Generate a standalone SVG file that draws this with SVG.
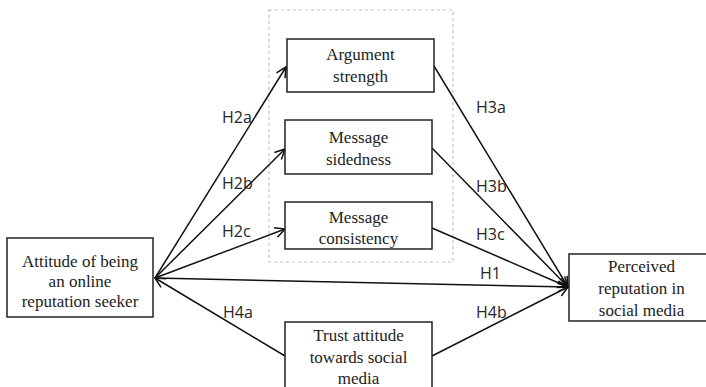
<svg xmlns="http://www.w3.org/2000/svg" width="706" height="387" viewBox="0 0 706 387">
  <defs>
    <marker id="arrow" viewBox="0 0 12 12" refX="11" refY="6" markerWidth="12" markerHeight="12" markerUnits="userSpaceOnUse" orient="auto">
      <path d="M1,1 L11,6 L1,11" fill="none" stroke="#111" stroke-width="1.5"/>
    </marker>
  </defs>
  <style>
    .box { fill: #fff; stroke: #222; stroke-width: 1.5; }
    .group { fill: none; stroke: #c4c4c4; stroke-width: 1.2; stroke-dasharray: 3 3; }
    .node-text { font-family: "Liberation Serif", "Times New Roman", serif; font-size: 17px; fill: #222; text-anchor: middle; }
    .edge { fill: none; stroke: #111; stroke-width: 1.5; }
    .label { font-family: "Open Sans", "DejaVu Sans", sans-serif; font-size: 16px; fill: #262626; }
  </style>
  <rect width="706" height="387" fill="#fff"/>

  <!-- mediator group outline -->
  <rect class="group" x="269" y="10" width="184" height="252"/>

  <g id="connectors">
    <line class="edge" x1="155" y1="278" x2="286" y2="67" marker-end="url(#arrow)"/>
    <line class="edge" x1="155" y1="278" x2="285" y2="149" marker-end="url(#arrow)"/>
    <line class="edge" x1="155" y1="278" x2="285" y2="229" marker-end="url(#arrow)"/>
    <line class="edge" x1="434" y1="66" x2="568" y2="287" marker-end="url(#arrow)"/>
    <line class="edge" x1="432" y1="148" x2="568" y2="287" marker-end="url(#arrow)"/>
    <line class="edge" x1="432" y1="228" x2="568" y2="287" marker-end="url(#arrow)"/>
    <line class="edge" x1="155" y1="278" x2="568" y2="287" marker-end="url(#arrow)"/>
    <line class="edge" x1="285" y1="356" x2="155" y2="278" marker-end="url(#arrow)"/>
    <line class="edge" x1="432" y1="356" x2="568" y2="287" marker-end="url(#arrow)"/>
  </g>

  <g id="edge-labels">
    <text class="label" x="222" y="123">H2a</text>
    <text class="label" x="222" y="189">H2b</text>
    <text class="label" x="222" y="237">H2c</text>
    <text class="label" x="476" y="113">H3a</text>
    <text class="label" x="476" y="192">H3b</text>
    <text class="label" x="476" y="240">H3c</text>
    <text class="label" x="480" y="279">H1</text>
    <text class="label" x="223" y="318">H4a</text>
    <text class="label" x="476" y="318">H4b</text>
  </g>

  <g id="attitude">
    <rect class="box" x="7" y="238" width="146" height="79"/>
    <text class="node-text" x="80" y="267">Attitude of being</text>
    <text class="node-text" x="80" y="287">an online</text>
    <text class="node-text" x="80" y="307">reputation seeker</text>
  </g>

  <g id="argument-strength">
    <rect class="box" x="287" y="39" width="147" height="53"/>
    <text class="node-text" x="360.5" y="60">Argument</text>
    <text class="node-text" x="360.5" y="82">strength</text>
  </g>

  <g id="message-sidedness">
    <rect class="box" x="285" y="120" width="147" height="54"/>
    <text class="node-text" x="358.5" y="143">Message</text>
    <text class="node-text" x="358.5" y="165">sidedness</text>
  </g>

  <g id="message-consistency">
    <rect class="box" x="285" y="202" width="147" height="47"/>
    <text class="node-text" x="358.5" y="223">Message</text>
    <text class="node-text" x="358.5" y="244">consistency</text>
  </g>

  <g id="trust-attitude">
    <rect class="box" x="285" y="322" width="147" height="75"/>
    <text class="node-text" x="358.5" y="341">Trust attitude</text>
    <text class="node-text" x="358.5" y="363">towards social</text>
    <text class="node-text" x="358.5" y="384">media</text>
  </g>

  <g id="perceived-reputation">
    <rect class="box" x="569" y="254" width="145" height="67"/>
    <text class="node-text" x="641.5" y="272">Perceived</text>
    <text class="node-text" x="641.5" y="294">reputation in</text>
    <text class="node-text" x="641.5" y="316">social media</text>
  </g>
</svg>
